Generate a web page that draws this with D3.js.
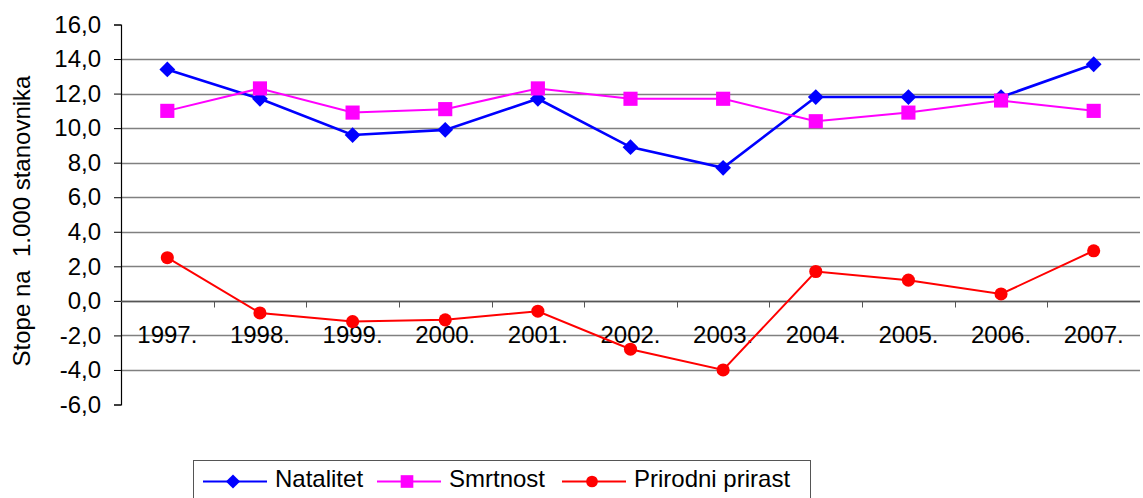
<!DOCTYPE html>
<html>
<head>
<meta charset="utf-8">
<script src="https://cdn.jsdelivr.net/npm/d3@7"></script>
<style>
  body { margin: 0; background: #fff; }
  text { font-family: "Liberation Sans", Arial, sans-serif; fill: #000; }
</style>
</head>
<body>
<script>
var years = ["1997.", "1998.", "1999.", "2000.", "2001.", "2002.", "2003.", "2004.", "2005.", "2006.", "2007."];
var natalitet = [13.4, 11.7, 9.6, 9.9, 11.7, 8.9, 7.7, 11.8, 11.8, 11.8, 13.7];
var smrtnost = [11.0, 12.3, 10.9, 11.1, 12.3, 11.7, 11.7, 10.4, 10.9, 11.6, 11.0];
var prirast = [2.5, -0.7, -1.2, -1.1, -0.6, -2.8, -4.0, 1.7, 1.2, 0.4, 2.9];
var yTicks = [-6, -4, -2, 0, 2, 4, 6, 8, 10, 12, 14, 16];

// diamond = square turned 45 degrees
var series = [
    {name: "Natalitet", values: natalitet, color: "#0000ff", symbol: d3.symbolSquare, rotate: 45, size: 125, width: 2.6},
    {name: "Smrtnost", values: smrtnost, color: "#ff00ff", symbol: d3.symbolSquare, rotate: 0, size: 200, width: 2},
    {name: "Prirodni prirast", values: prirast, color: "#ff0000", symbol: d3.symbolCircle, rotate: 0, size: 135, width: 2}
];

var W = 1143, H = 498;
var plot = {left: 121, right: 1140, top: 24.5, bottom: 404.5};

var svg = d3.select("body").append("svg")
    .attr("width", W)
    .attr("height", H);

var x = d3.scaleBand()
    .domain(years)
    .range([plot.left, plot.right])
    .padding(0);

var y = d3.scaleLinear()
    .domain([-6, 16])
    .range([plot.bottom, plot.top]);

// comma decimals, plain hyphen for negatives
var fmt = function (d) { return d3.format(".1f")(d).replace(".", ",").replace("\u2212", "-"); };

// gridlines
svg.append("g")
    .selectAll("line")
    .data(yTicks.filter(function (d) { return d !== 16 && d !== -6; }))
    .enter().append("line")
    .attr("x1", plot.left)
    .attr("x2", plot.right)
    .attr("y1", function (d) { return Math.round(y(d)) + 0.5; })
    .attr("y2", function (d) { return Math.round(y(d)) + 0.5; })
    .style("stroke", "#808080")
    .style("stroke-width", 1.5);

// y axis
var yAxis = svg.append("g")
    .attr("transform", "translate(" + plot.left + ",0)")
    .call(d3.axisLeft(y).tickValues(yTicks).tickFormat(fmt).tickSize(7).tickPadding(13));
yAxis.select(".domain").attr("stroke", "#000").attr("stroke-width", 1.2);
yAxis.selectAll(".tick line").attr("stroke", "#000");
yAxis.selectAll(".tick text")
    .style("font-size", "24px")
    .style("font-family", "'Liberation Sans', Arial, sans-serif")
    .attr("fill", "#000");

// x axis line at 0 with tick marks between categories
var y0 = Math.round(y(0)) + 0.5;
svg.append("line")
    .attr("x1", plot.left).attr("x2", plot.right)
    .attr("y1", y0).attr("y2", y0)
    .style("stroke", "#555")
    .style("stroke-width", 1.5);

svg.append("g")
    .selectAll("line")
    .data(years.slice(1))
    .enter().append("line")
    .attr("x1", function (d) { return Math.round(x(d)) + 0.5; })
    .attr("x2", function (d) { return Math.round(x(d)) + 0.5; })
    .attr("y1", y0)
    .attr("y2", y0 + 6)
    .style("stroke", "#555")
    .style("stroke-width", 1);

// category labels
svg.append("g")
    .selectAll("text")
    .data(years)
    .enter().append("text")
    .attr("x", function (d) { return x(d) + x.bandwidth() / 2; })
    .attr("y", y0 + 41)
    .attr("text-anchor", "middle")
    .style("font-size", "24px")
    .text(function (d) { return d; });

// y axis title
svg.append("text")
    .attr("text-anchor", "middle")
    .attr("transform", "translate(30," + 221 + ")rotate(-90)")
    .style("font-size", "24px")
    .style("white-space", "pre")
    .text("Stope na  1.000 stanovnika");

// lines and markers
var cx = function (d, i) { return x(years[i]) + x.bandwidth() / 2; };

series.forEach(function (s) {
    var line = d3.line()
        .x(cx)
        .y(function (d) { return y(d); });

    svg.append("path")
        .datum(s.values)
        .attr("d", line)
        .style("fill", "none")
        .style("stroke", s.color)
        .style("stroke-width", s.width);

    svg.append("g")
        .selectAll("path")
        .data(s.values)
        .enter().append("path")
        .attr("d", d3.symbol().type(s.symbol).size(s.size))
        .attr("transform", function (d, i) {
            return "translate(" + cx(d, i) + "," + y(d) + ")rotate(" + s.rotate + ")";
        })
        .style("fill", s.color);
});

// legend
var legend = svg.append("g").attr("class", "legend");
legend.append("rect")
    .attr("x", 193.5)
    .attr("y", 460.5)
    .attr("width", 617)
    .attr("height", 44)
    .style("fill", "#fff")
    .style("stroke", "#555")
    .style("stroke-width", 1);

var legendX = [203, 377, 562];
series.forEach(function (s, i) {
    var g = legend.append("g").attr("transform", "translate(" + legendX[i] + ",481.5)");
    g.append("line")
        .attr("x1", 0).attr("x2", 64)
        .attr("y1", 0).attr("y2", 0)
        .style("stroke", s.color)
        .style("stroke-width", 2);
    g.append("path")
        .attr("d", d3.symbol().type(s.symbol).size(s.size * 0.8))
        .attr("transform", "translate(30,0)rotate(" + s.rotate + ")")
        .style("fill", s.color);
    g.append("text")
        .attr("x", 72)
        .attr("y", 5)
        .style("font-size", "24px")
        .text(s.name);
});
</script>
</body>
</html>
